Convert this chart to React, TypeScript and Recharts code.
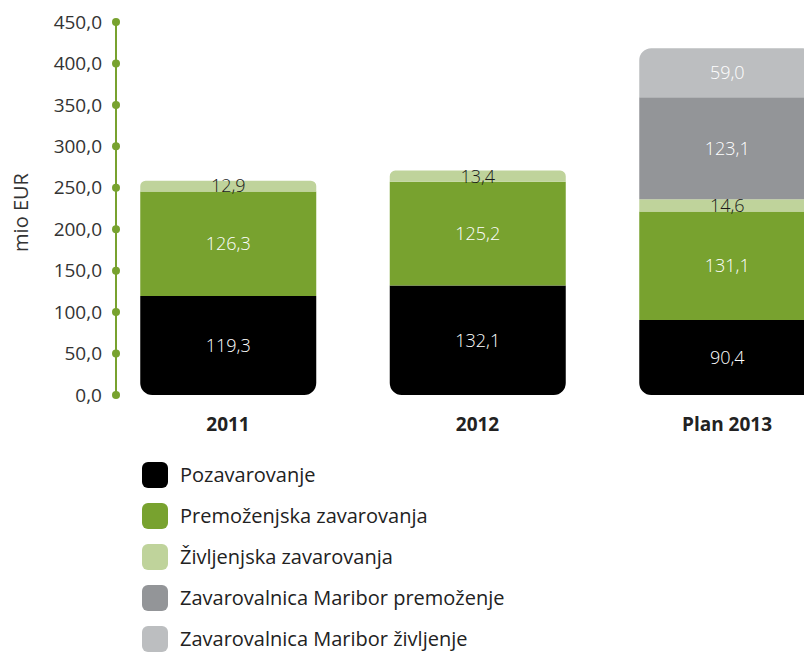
import React from 'react';
import {
  BarChart,
  Bar,
  XAxis,
  YAxis,
  LabelList,
  Rectangle
} from 'recharts';

const categories = ['2011', '2012', 'Plan 2013'];
const pozavarovanje = [119.3, 132.1, 90.4];
const premozenjska = [126.3, 125.2, 131.1];
const zivljenjska = [12.9, 13.4, 14.6];
const zmPremozenje = [null, null, 123.1];
const zmZivljenje = [null, null, 59.0];
const yTicks = [0, 50, 100, 150, 200, 250, 300, 350, 400, 450];

const series = [
  { key: 'poz', name: 'Pozavarovanje', values: pozavarovanje, color: '#000000', text: '#ffffff' },
  { key: 'prem', name: 'Premoženjska zavarovanja', values: premozenjska, color: '#78a22f', text: '#ffffff' },
  { key: 'ziv', name: 'Življenjska zavarovanja', values: zivljenjska, color: '#bfd39b', text: '#1a1a1a' },
  { key: 'zmp', name: 'Zavarovalnica Maribor premoženje', values: zmPremozenje, color: '#939598', text: '#ffffff' },
  { key: 'zmz', name: 'Zavarovalnica Maribor življenje', values: zmZivljenje, color: '#bcbec0', text: '#ffffff' },
];

const data = categories.map((name, i) => {
  const row: any = { idx: i, name };
  series.forEach(s => { row[s.key] = s.values[i]; });
  const filled = series.filter(s => s.values[i] != null);
  row.top = filled[filled.length - 1].key;
  return row;
});

const fmt = (v: any) => (v == null ? '' : Number(v).toFixed(1).replace('.', ','));
const FONT = '"Open Sans", "DejaVu Sans", sans-serif';

const YTick = (props: any) => {
  const { x, y, payload } = props;
  return (
    <g>
      <circle cx={x + 14} cy={y} r={4} fill="#78a22f" />
      <text x={x} y={y} dy="0.35em" textAnchor="end" fill="#333" fontSize={19} fontFamily={FONT}>
        {fmt(payload.value)}
      </text>
    </g>
  );
};

const makeShape = (key: string) => (props: any) => {
  const { payload } = props;
  let r: any = 0;
  if (payload.top === key) r = [12, 12, 0, 0];
  else if (key === series[0].key) r = [0, 0, 12, 12];
  return <Rectangle {...props} radius={r} />;
};

const App = () => {
  return (
    <div style={{ fontFamily: FONT, padding: '8px 0 0 8px', width: 796 }}>
      <style>{'html{overflow:hidden} body{margin:0}'}</style>
      <BarChart
        width={796}
        height={440}
        data={data}
        margin={{ top: 14, right: 0, bottom: 0, left: 0 }}
      >
        <XAxis
          type="number"
          dataKey="idx"
          domain={[-0.4489, 2.3086]}
          ticks={[0, 1, 2]}
          interval={0}
          tickFormatter={(v: number) => categories[v] ?? ''}
          axisLine={false}
          tickLine={false}
          tickMargin={17}
          height={53}
          tick={{ fill: '#222', fontSize: 19, fontWeight: 700, fontFamily: FONT }}
        />
        <YAxis
          domain={[0, 450]}
          ticks={yTicks}
          interval={0}
          width={108}
          axisLine={{ stroke: '#78a22f', strokeWidth: 2 }}
          tickLine={false}
          tickSize={0}
          tickMargin={14}
          tick={<YTick />}
          label={({ viewBox }: any) => (
            <text
              x={viewBox.x + 12}
              y={viewBox.y + viewBox.height / 2 + 4}
              transform={`rotate(-90, ${viewBox.x + 12}, ${viewBox.y + viewBox.height / 2 + 4})`}
              textAnchor="middle"
              dominantBaseline="central"
              fill="#333"
              fontSize={20}
              fontFamily={FONT}
            >
              mio EUR
            </text>
          )}
        />
        {series.map(s => (
          <Bar
            key={s.key}
            dataKey={s.key}
            name={s.name}
            stackId="a"
            fill={s.color}
            barSize={176}
            shape={makeShape(s.key)}
            isAnimationActive={false}
          >
            <LabelList
              dataKey={s.key}
              position="center"
              formatter={fmt}
              fill={s.text}
              stroke="none"
              fontSize={18}
              fontFamily={FONT}
              fontWeight={300}
            />
          </Bar>
        ))}
      </BarChart>
      <div style={{ marginLeft: 134, marginTop: 6 }}>
        {series.map(s => (
          <div key={s.key} style={{ display: 'flex', alignItems: 'center', height: 41 }}>
            <div style={{ width: 26, height: 26, borderRadius: 6, background: s.color }} />
            <span style={{ marginLeft: 12, fontSize: 20, color: '#222' }}>{s.name}</span>
          </div>
        ))}
      </div>
    </div>
  );
};

export default App;
